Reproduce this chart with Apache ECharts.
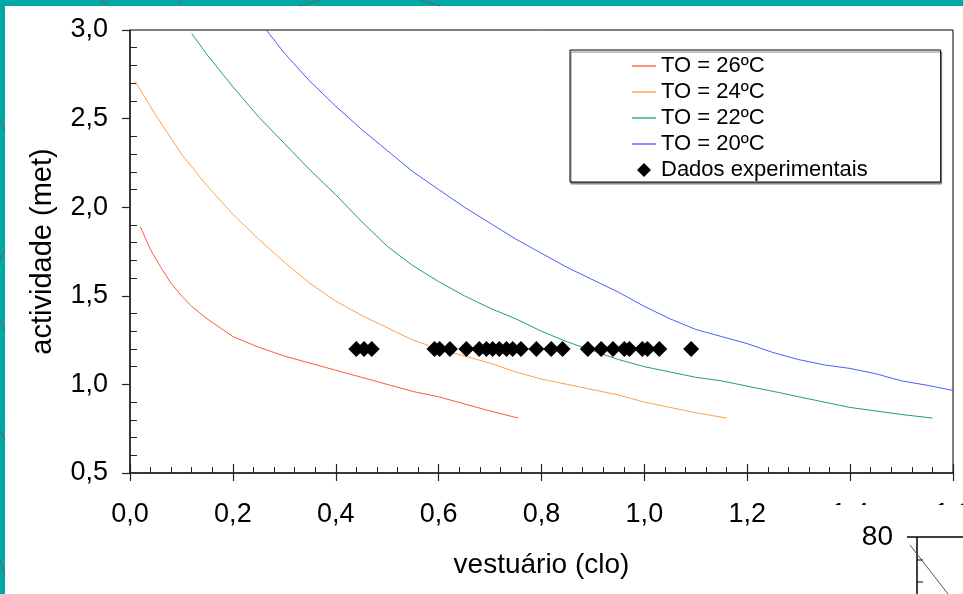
<!DOCTYPE html>
<html>
<head>
<meta charset="utf-8">
<script src="https://cdn.jsdelivr.net/npm/echarts@6/dist/echarts.min.js"></script>
<style>
html,body{margin:0;padding:0;background:#fff;}
#c{width:963px;height:594px;}
</style>
</head>
<body>
<div id="c"></div>
<script>
// ---- data (clo, met) ----
var seriesNames = ['TO = 26ºC', 'TO = 24ºC', 'TO = 22ºC', 'TO = 20ºC', 'Dados experimentais'];

var clo26 = [0.02, 0.04, 0.06, 0.08, 0.10, 0.12, 0.15, 0.20, 0.25, 0.30, 0.35, 0.40, 0.45, 0.50, 0.55, 0.60, 0.65, 0.70, 0.755];
var met26 = [1.89, 1.76, 1.66, 1.57, 1.50, 1.44, 1.37, 1.27, 1.21, 1.16, 1.12, 1.08, 1.04, 1.00, 0.96, 0.93, 0.89, 0.85, 0.81];

var clo24 = [0.01, 0.05, 0.10, 0.15, 0.20, 0.25, 0.30, 0.35, 0.40, 0.45, 0.50, 0.55, 0.60, 0.65, 0.70, 0.75, 0.80, 0.85, 0.90, 0.95, 1.00, 1.05, 1.10, 1.16];
var met24 = [2.71, 2.52, 2.30, 2.12, 1.96, 1.82, 1.69, 1.57, 1.47, 1.39, 1.32, 1.25, 1.20, 1.16, 1.12, 1.07, 1.03, 1.00, 0.97, 0.94, 0.90, 0.87, 0.84, 0.81];

var clo22 = [0.12, 0.15, 0.20, 0.25, 0.30, 0.35, 0.40, 0.45, 0.50, 0.55, 0.60, 0.65, 0.70, 0.75, 0.80, 0.85, 0.90, 0.95, 1.00, 1.05, 1.10, 1.15, 1.20, 1.26, 1.30, 1.35, 1.40, 1.45, 1.50, 1.56];
var met22 = [2.98, 2.86, 2.68, 2.51, 2.36, 2.21, 2.07, 1.92, 1.78, 1.67, 1.58, 1.50, 1.43, 1.37, 1.30, 1.24, 1.19, 1.14, 1.10, 1.07, 1.04, 1.02, 0.99, 0.955, 0.93, 0.90, 0.87, 0.85, 0.83, 0.81];

var clo20 = [0.265, 0.30, 0.35, 0.40, 0.45, 0.50, 0.55, 0.60, 0.65, 0.70, 0.75, 0.80, 0.85, 0.90, 0.95, 1.00, 1.05, 1.10, 1.15, 1.20, 1.25, 1.30, 1.35, 1.40, 1.45, 1.50, 1.55, 1.60, 1.62];
var met20 = [3.00, 2.87, 2.71, 2.57, 2.44, 2.32, 2.20, 2.10, 2.00, 1.91, 1.82, 1.74, 1.66, 1.59, 1.52, 1.44, 1.37, 1.31, 1.27, 1.23, 1.18, 1.14, 1.11, 1.09, 1.06, 1.02, 0.995, 0.966, 0.95];

var cloExp = [0.44, 0.455, 0.47, 0.592, 0.602, 0.622, 0.654, 0.679, 0.693, 0.705, 0.718, 0.732, 0.744, 0.760, 0.790, 0.819, 0.841, 0.890, 0.916, 0.939, 0.961, 0.971, 0.996, 1.006, 1.029, 1.091];
var metExp = [1.2, 1.2, 1.2, 1.2, 1.2, 1.2, 1.2, 1.2, 1.2, 1.2, 1.2, 1.2, 1.2, 1.2, 1.2, 1.2, 1.2, 1.2, 1.2, 1.2, 1.2, 1.2, 1.2, 1.2, 1.2, 1.2];

var xTicks = [0.0, 0.2, 0.4, 0.6, 0.8, 1.0, 1.2, 1.4, 1.6];
var yTicks = [0.5, 1.0, 1.5, 2.0, 2.5, 3.0];

function zip(a, b) { return a.map(function (v, i) { return [v, b[i]]; }); }
function fmt(v) { return v.toFixed(1).replace('.', ','); }

var FONT = '"Liberation Sans", Arial, sans-serif';
var colors = ['#FF5A3A', '#FFA04A', '#1E9A90', '#4A5CFF'];
var LINE_ICON = 'path://M0,0L24,0L24,1.3L0,1.3Z';
var DIAMOND_ICON = 'path://M7,0L14,7L7,14L0,7Z';

var chart = echarts.init(document.getElementById('c'), null, { renderer: 'canvas' });

var xBase = { type: 'value', min: xTicks[0], max: xTicks[xTicks.length - 1], interval: 0.2, position: 'bottom', splitLine: { show: false } };
var yBase = { type: 'value', min: yTicks[0], max: yTicks[yTicks.length - 1], interval: 0.5, position: 'left', splitLine: { show: false } };

var option = {
  backgroundColor: '#ffffff',
  animation: false,
  textStyle: { fontFamily: FONT },
  grid: { left: 130, top: 30, right: 10, bottom: 121, containLabel: false, outerBoundsMode: 'none', show: true, borderColor: '#000', borderWidth: 1, backgroundColor: 'transparent' },
  xAxis: [
    Object.assign({}, xBase, {
      axisLine: { show: true, lineStyle: { color: '#222', width: 1.5 } },
      axisTick: { show: true, inside: false, length: 8, lineStyle: { color: '#222', width: 1.2 } },
      axisLabel: { show: true, margin: 28, fontSize: 27, color: '#000', fontFamily: FONT, formatter: fmt, showMaxLabel: true, showMinLabel: true },
      name: 'vestuário (clo)', nameLocation: 'middle', nameGap: 78,
      nameTextStyle: { fontSize: 28, color: '#000', fontFamily: FONT }
    }),
    Object.assign({}, xBase, {
      axisLine: { show: false },
      axisTick: { show: true, inside: true, length: 9, lineStyle: { color: '#222', width: 1.2 } },
      axisLabel: { show: false },
      minorTick: { show: true, splitNumber: 5, length: 6, lineStyle: { color: '#222', width: 1 } }
    })
  ],
  yAxis: [
    Object.assign({}, yBase, {
      axisLine: { show: true, lineStyle: { color: '#222', width: 1.5 } },
      axisTick: { show: true, inside: false, length: 8, lineStyle: { color: '#222', width: 1.2 } },
      axisLabel: { show: true, margin: 22, fontSize: 27, color: '#000', fontFamily: FONT, formatter: fmt },
      name: 'actividade (met)', nameLocation: 'middle', nameGap: 73,
      nameTextStyle: { fontSize: 29, color: '#000', fontFamily: FONT }
    }),
    Object.assign({}, yBase, {
      axisLine: { show: false },
      axisTick: { show: false, inside: true },
      axisLabel: { show: false },
      minorTick: { show: true, splitNumber: 5, length: 7, lineStyle: { color: '#222', width: 1 } }
    })
  ],
  legend: {
    orient: 'vertical', left: 570, top: 50,
    padding: [4, 73, 0, 62],
    itemGap: 2, itemWidth: 24, itemHeight: 14,
    symbolKeepAspect: true,
    backgroundColor: '#fff', borderColor: '#000', borderWidth: 1,
    shadowColor: '#888', shadowOffsetX: 1, shadowOffsetY: 2, shadowBlur: 0,
    textStyle: { fontSize: 22, lineHeight: 24, color: '#000', fontFamily: FONT },
    data: [
      { name: seriesNames[0], icon: LINE_ICON },
      { name: seriesNames[1], icon: LINE_ICON },
      { name: seriesNames[2], icon: LINE_ICON },
      { name: seriesNames[3], icon: LINE_ICON },
      { name: seriesNames[4], icon: DIAMOND_ICON }
    ]
  },
  series: [
    { name: seriesNames[0], type: 'line', data: zip(clo26, met26), symbol: 'none', lineStyle: { color: colors[0], width: 1 }, itemStyle: { color: colors[0] } },
    { name: seriesNames[1], type: 'line', data: zip(clo24, met24), symbol: 'none', lineStyle: { color: colors[1], width: 1 }, itemStyle: { color: colors[1] } },
    { name: seriesNames[2], type: 'line', data: zip(clo22, met22), symbol: 'none', lineStyle: { color: colors[2], width: 1 }, itemStyle: { color: colors[2] } },
    { name: seriesNames[3], type: 'line', data: zip(clo20, met20), symbol: 'none', clip: false, lineStyle: { color: colors[3], width: 1 }, itemStyle: { color: colors[3] } },
    { name: seriesNames[4], type: 'scatter', data: zip(cloExp, metExp), symbol: 'diamond', symbolSize: 16, itemStyle: { color: '#000', opacity: 1 }, z: 5 }
  ],
  graphic: [
    // teal frame of the slide
    { type: 'rect', z: 200, shape: { x: 0, y: 0, width: 963, height: 6 }, style: { fill: '#00A9A6' } },
    { type: 'rect', z: 200, shape: { x: 0, y: 0, width: 5, height: 594 }, style: { fill: '#00A9A6' } },
    { type: 'line', z: 201, shape: { x1: 100, y1: 0, x2: 110, y2: 6 }, style: { stroke: '#666', lineWidth: 1 } },
    { type: 'line', z: 201, shape: { x1: 178, y1: 0, x2: 182, y2: 6 }, style: { stroke: '#666', lineWidth: 1 } },
    { type: 'line', z: 201, shape: { x1: 300, y1: 6, x2: 320, y2: 0 }, style: { stroke: '#666', lineWidth: 1 } },
    { type: 'line', z: 201, shape: { x1: 420, y1: 0, x2: 440, y2: 6 }, style: { stroke: '#666', lineWidth: 1 } },
    { type: 'line', z: 201, shape: { x1: 0, y1: 120, x2: 5, y2: 130 }, style: { stroke: '#666', lineWidth: 1 } },
    { type: 'line', z: 201, shape: { x1: 0, y1: 260, x2: 5, y2: 250 }, style: { stroke: '#666', lineWidth: 1 } },
    { type: 'line', z: 201, shape: { x1: 0, y1: 320, x2: 5, y2: 330 }, style: { stroke: '#666', lineWidth: 1 } },
    { type: 'line', z: 201, shape: { x1: 0, y1: 430, x2: 5, y2: 440 }, style: { stroke: '#666', lineWidth: 1 } },
    { type: 'line', z: 201, shape: { x1: 0, y1: 560, x2: 5, y2: 575 }, style: { stroke: '#666', lineWidth: 1 } },
    // overlapping second figure in the bottom-right corner
    { type: 'rect', z: 210, shape: { x: 795, y: 505, width: 168, height: 89 }, style: { fill: '#fff' } },
    { type: 'text', z: 211, x: 893, y: 537, style: { text: '80', fontSize: 28, fontFamily: FONT, fill: '#000', align: 'right', verticalAlign: 'middle' } },
    { type: 'line', z: 211, shape: { x1: 907, y1: 537, x2: 963, y2: 537 }, style: { stroke: '#000', lineWidth: 1.5 } },
    { type: 'line', z: 211, shape: { x1: 917, y1: 537, x2: 917, y2: 594 }, style: { stroke: '#000', lineWidth: 1.5 } },
    { type: 'line', z: 211, shape: { x1: 917, y1: 560, x2: 923, y2: 560 }, style: { stroke: '#000', lineWidth: 1 } },
    { type: 'line', z: 211, shape: { x1: 917, y1: 582, x2: 923, y2: 582 }, style: { stroke: '#000', lineWidth: 1 } },
    { type: 'line', z: 211, shape: { x1: 910, y1: 545, x2: 948, y2: 594 }, style: { stroke: '#555', lineWidth: 1 } }
  ]
};
chart.setOption(option);
</script>
</body>
</html>
